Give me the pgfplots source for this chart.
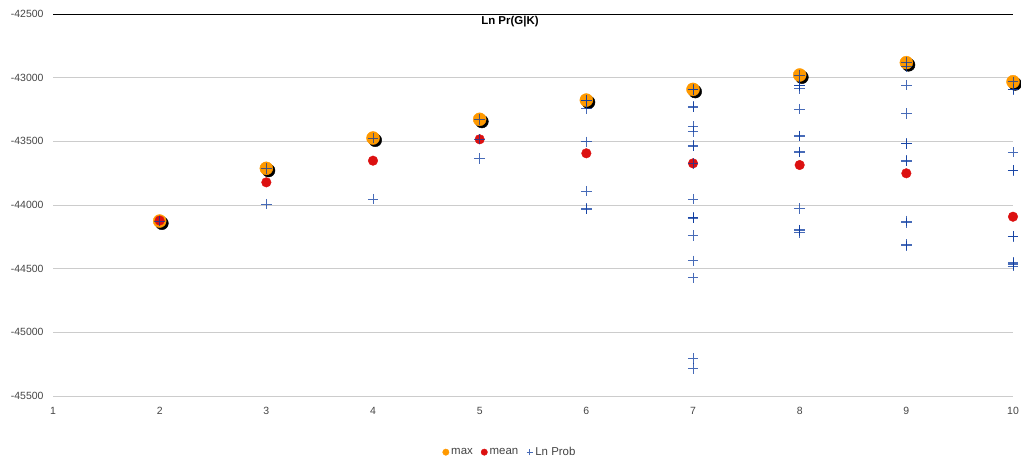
\documentclass[border=0pt]{standalone}
\usepackage{pgfplots}
\pgfplotsset{compat=1.18}
\usepackage{fontspec}
\setmainfont{Liberation Sans}
\definecolor{gorange}{HTML}{FF9900}
\definecolor{gred}{HTML}{DC1010}
\definecolor{gblue}{HTML}{0A3AA0}
\definecolor{ggrid}{HTML}{CCCCCC}
\definecolor{glabel}{HTML}{444444}
\begin{document}
\begin{tikzpicture}
\begin{axis}[
  at={(0,0)}, anchor=south west,
  scale only axis, width=960bp, height=382bp,
  xmin=1, xmax=10, ymin=-45500, ymax=-42500,
  clip=false,
  scaled y ticks=false,
  axis line style={draw=none},
  major tick length=0pt,
  xtick={1,...,10},
  ytick={-45500,-45000,-44500,-44000,-43500,-43000},
  extra y ticks={-42500},
  extra y tick style={grid style={black, line width=0.8pt}},
  ymajorgrids,
  grid style={ggrid, line width=0.8pt},
  tick label style={font=\fontsize{10.5}{12}\selectfont, text=glabel},
  yticklabel style={xshift=-6bp},
  xticklabel style={yshift=-8bp},
  /pgf/number format/.cd, set thousands separator={}, assume math mode=true,
  /pgfplots/.cd,
  title={\textbf{Ln Pr(G\textbar K)}},
  title style={at={(0.476,1)}, anchor=north, yshift=-5bp, font=\fontsize{11.5}{13}\selectfont},
  legend style={at={(0.476,-0.147)}, anchor=center, draw=none, legend columns=3,
    font=\fontsize{11.5}{13}\selectfont, text=glabel,
    /tikz/every even column/.append style={column sep=6bp}},
]
% shadow of max
\addplot[only marks, mark=*, mark size=6.5bp, draw=black, fill=black,
  mark options={xshift=2.2bp, yshift=-2.2bp}, forget plot]
coordinates {(2,-44126) (3,-43712) (4,-43474) (5,-43327) (6,-43176) (7,-43092) (8,-42979) (9,-42882) (10,-43032)};
\addplot[only marks, mark=*, mark size=6.5bp, draw=gorange, fill=gorange,
  legend image code/.code={\fill[gorange] (0.15cm,0cm) circle (3.2bp);}]
coordinates {(2,-44126) (3,-43712) (4,-43474) (5,-43327) (6,-43176) (7,-43092) (8,-42979) (9,-42882) (10,-43032)};
\addlegendentry{max}
\addplot[only marks, mark=*, mark size=4.8bp, draw=gred, fill=gred,
  legend image code/.code={\fill[gred] (0.15cm,0cm) circle (3.2bp);}]
coordinates {(2,-44122) (3,-43822) (4,-43652) (5,-43484) (6,-43594) (7,-43673) (8,-43686) (9,-43751) (10,-44092)};
\addlegendentry{mean}
\addplot[only marks, mark=+, mark size=5.2bp, draw=gblue, draw opacity=0.75, line width=0.8pt,
  legend image code/.code={\draw[gblue, line width=0.8pt] (0.04cm,0cm) -- (0.26cm,0cm) (0.15cm,-0.11cm) -- (0.15cm,0.11cm);}]
coordinates {
(2,-44126)
(3,-43712) (3,-43993)
(4,-43474) (4,-43953)
(5,-43327) (5,-43484) (5,-43634)
(6,-43176) (6,-43180) (6,-43241) (6,-43503) (6,-43890) (6,-44027) (6,-44032)
(7,-43092) (7,-43096) (7,-43228) (7,-43232) (7,-43385) (7,-43424) (7,-43534) (7,-43538) (7,-43673) (7,-43953) (7,-44097) (7,-44100) (7,-44104) (7,-44238) (7,-44438) (7,-44571) (7,-45205) (7,-45283)
(8,-42979) (8,-43058) (8,-43062) (8,-43084) (8,-43246) (8,-43456) (8,-43460) (8,-43582) (8,-43586) (8,-44027) (8,-44195) (8,-44200) (8,-44215)
(9,-42882) (9,-42914) (9,-43058) (9,-43280) (9,-43516) (9,-43520) (9,-43652) (9,-43656) (9,-44125) (9,-44140) (9,-44310) (9,-44320)
(10,-43032) (10,-43090) (10,-43094) (10,-43586) (10,-43725) (10,-43729) (10,-44244) (10,-44248) (10,-44450) (10,-44460) (10,-44470) (10,-44480)
};
\addlegendentry{Ln Prob}
\end{axis}
\pgfresetboundingbox
\useasboundingbox (-53bp,-66bp) rectangle (968bp,396bp);
\end{tikzpicture}
\end{document}
